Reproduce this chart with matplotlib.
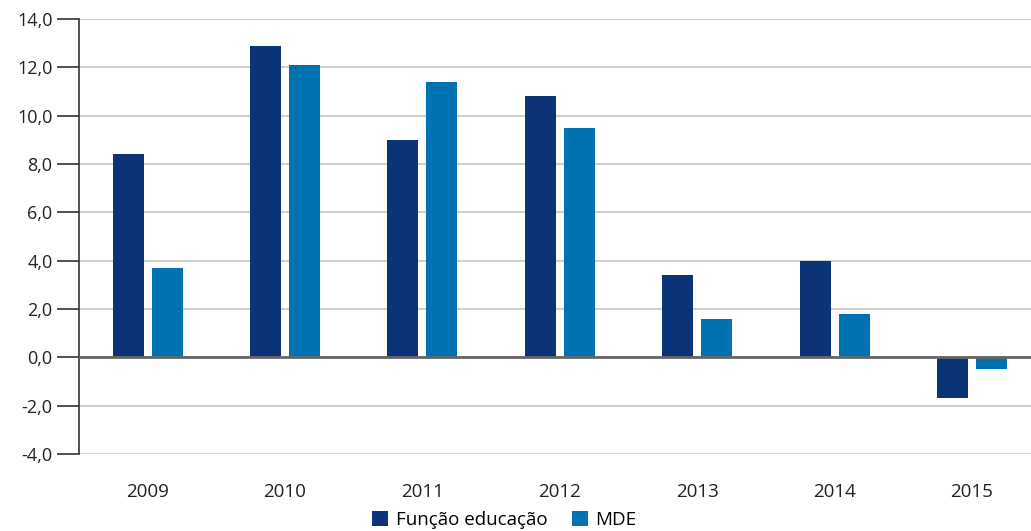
import numpy as np
from matplotlib import pyplot as plt

anos = ['2009', '2010', '2011', '2012', '2013', '2014', '2015']
funcao_educacao = [8.4, 12.9, 9.0, 10.8, 3.4, 4.0, -1.7]
mde = [3.7, 12.1, 11.4, 9.5, 1.6, 1.8, -0.5]
y_ticks = [-4, -2, 0, 2, 4, 6, 8, 10, 12, 14]

plt.rcParams['font.family'] = ['Open Sans', 'DejaVu Sans']

fig = plt.figure(figsize=(10.31, 5.31), dpi=100)
ax = fig.add_axes([0.0766, 0.145, 0.9234, 0.819])

x = np.arange(len(anos))
w = 0.226
off = 0.142
ax.bar(x - off, funcao_educacao, w, color='#0b3478', label='Função educação', zorder=3)
ax.bar(x + off, mde, w, color='#0072b1', label='MDE', zorder=3)

ax.set_xlim(-0.5, 6.43)
ax.set_ylim(-4, 14)
ax.set_yticks(y_ticks)
ax.set_yticklabels([f'{v:.1f}'.replace('.', ',') for v in y_ticks], fontsize=13, color='#222222')
ax.set_xticks(x)
ax.set_xticklabels(anos, fontsize=13.5, color='#222222')
ax.tick_params(axis='x', length=0, pad=21)
ax.tick_params(axis='y', length=16, width=1.2, color='#333333', pad=3)

ax.grid(axis='y', color='#d0d0d0', linewidth=1.5, zorder=0)
ax.axhline(0, color='#666666', linewidth=2, zorder=4)
for s in ['top', 'right', 'bottom']:
    ax.spines[s].set_visible(False)
ax.spines['left'].set_color('#333333')
ax.spines['left'].set_linewidth(1.2)

fig.legend(loc='center', bbox_to_anchor=(0.489, 0.02), ncol=2, frameon=False,
           fontsize=13.5, handlelength=0.85, handleheight=0.85, handletextpad=0.4,
           columnspacing=1.3, borderpad=0)

fig.savefig('out.png', dpi=100)
